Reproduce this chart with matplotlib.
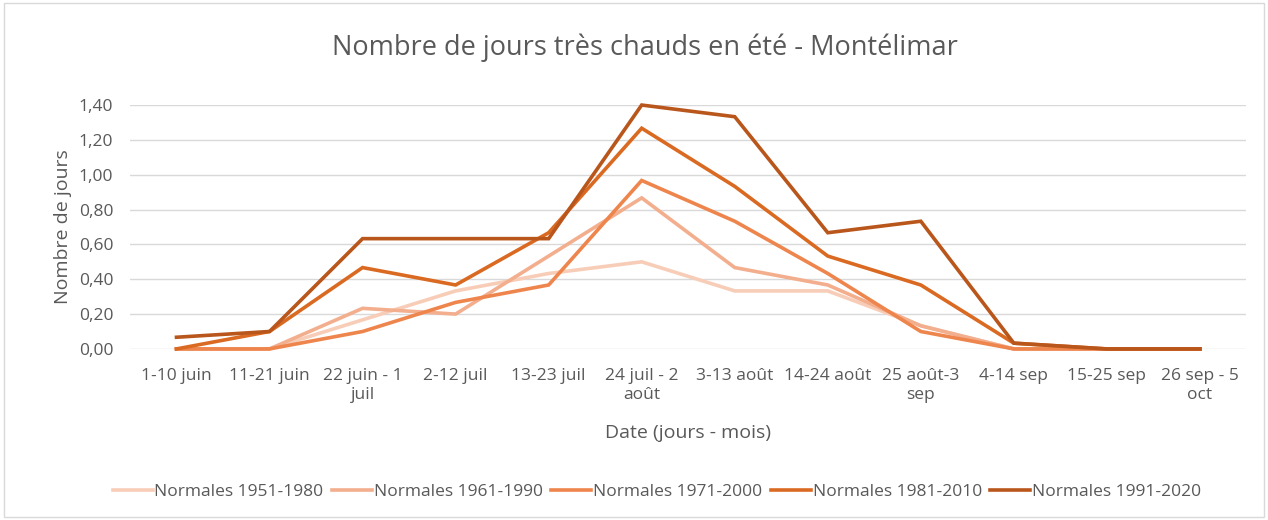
import matplotlib.pyplot as plt
from matplotlib.patches import Rectangle
from matplotlib.ticker import FuncFormatter

plt.rcParams['font.family'] = ['Open Sans', 'DejaVu Sans']

periodes = ["1-10 juin", "11-21 juin", "22 juin - 1\njuil", "2-12 juil", "13-23 juil",
            "24 juil - 2\naoût", "3-13 août", "14-24 août", "25 août-3\nsep", "4-14 sep",
            "15-25 sep", "26 sep - 5\noct"]

n_1951 = [0, 0, 0.167, 0.333, 0.433, 0.50, 0.333, 0.333, 0.133, 0.0, 0, 0]
n_1961 = [0, 0, 0.233, 0.20, 0.533, 0.867, 0.467, 0.367, 0.133, 0.0, 0, 0]
n_1971 = [0, 0, 0.10, 0.267, 0.367, 0.967, 0.733, 0.433, 0.10, 0.0, 0, 0]
n_1981 = [0, 0.10, 0.467, 0.367, 0.667, 1.267, 0.933, 0.533, 0.367, 0.033, 0, 0]
n_1991 = [0.067, 0.10, 0.633, 0.633, 0.633, 1.40, 1.333, 0.667, 0.733, 0.033, 0, 0]

series = [("Normales 1951-1980", n_1951, "#F8CDB8"),
          ("Normales 1961-1990", n_1961, "#F3AE8E"),
          ("Normales 1971-2000", n_1971, "#EE854D"),
          ("Normales 1981-2010", n_1981, "#DA6A22"),
          ("Normales 1991-2020", n_1991, "#B9561B")]

grey = "#595959"

fig = plt.figure(figsize=(12.68, 5.2), dpi=100)
ax = fig.add_axes([0.1025, 0.329, 0.8805, 0.469])

x = list(range(len(periodes)))
for nom, vals, col in series:
    ax.plot(x, vals, color=col, lw=2.6, label=nom, clip_on=False, solid_joinstyle='miter')

ax.set_xlim(-0.5, len(periodes) - 0.5)
ax.set_ylim(0, 1.4)
ax.set_yticks([0, 0.2, 0.4, 0.6, 0.8, 1.0, 1.2, 1.4])
ax.yaxis.set_major_formatter(FuncFormatter(lambda v, p: f"{v:.2f}".replace(".", ",")))
ax.set_xticks(x)
ax.set_xticklabels(periodes, linespacing=1.25)
ax.grid(axis='y', color="#D9D9D9", lw=1)
ax.set_axisbelow(True)
for s in ax.spines.values():
    s.set_visible(False)
ax.tick_params(length=0, colors=grey, labelsize=12.5)
ax.tick_params(axis='x', pad=14)
ax.tick_params(axis='y', pad=12)

fig.text(0.509, 0.909, "Nombre de jours très chauds en été - Montélimar", color=grey,
         fontsize=19.5, ha='center', va='center')
ax.set_xlabel("Date (jours - mois)", color=grey, fontsize=14, labelpad=15)
ax.set_ylabel("Nombre de jours", color=grey, fontsize=14, labelpad=5)

ax.legend(loc='center', bbox_to_anchor=(0.472, -0.585), ncol=5, frameon=False, fontsize=12.5,
          labelcolor=grey, handlelength=2.3, columnspacing=0.5, handletextpad=0.1)

fig.patches.append(Rectangle((0.003, 0.006), 0.994, 0.988, transform=fig.transFigure,
                             fill=False, edgecolor="#D9D9D9", lw=1))

fig.savefig("out.png", dpi=100)
